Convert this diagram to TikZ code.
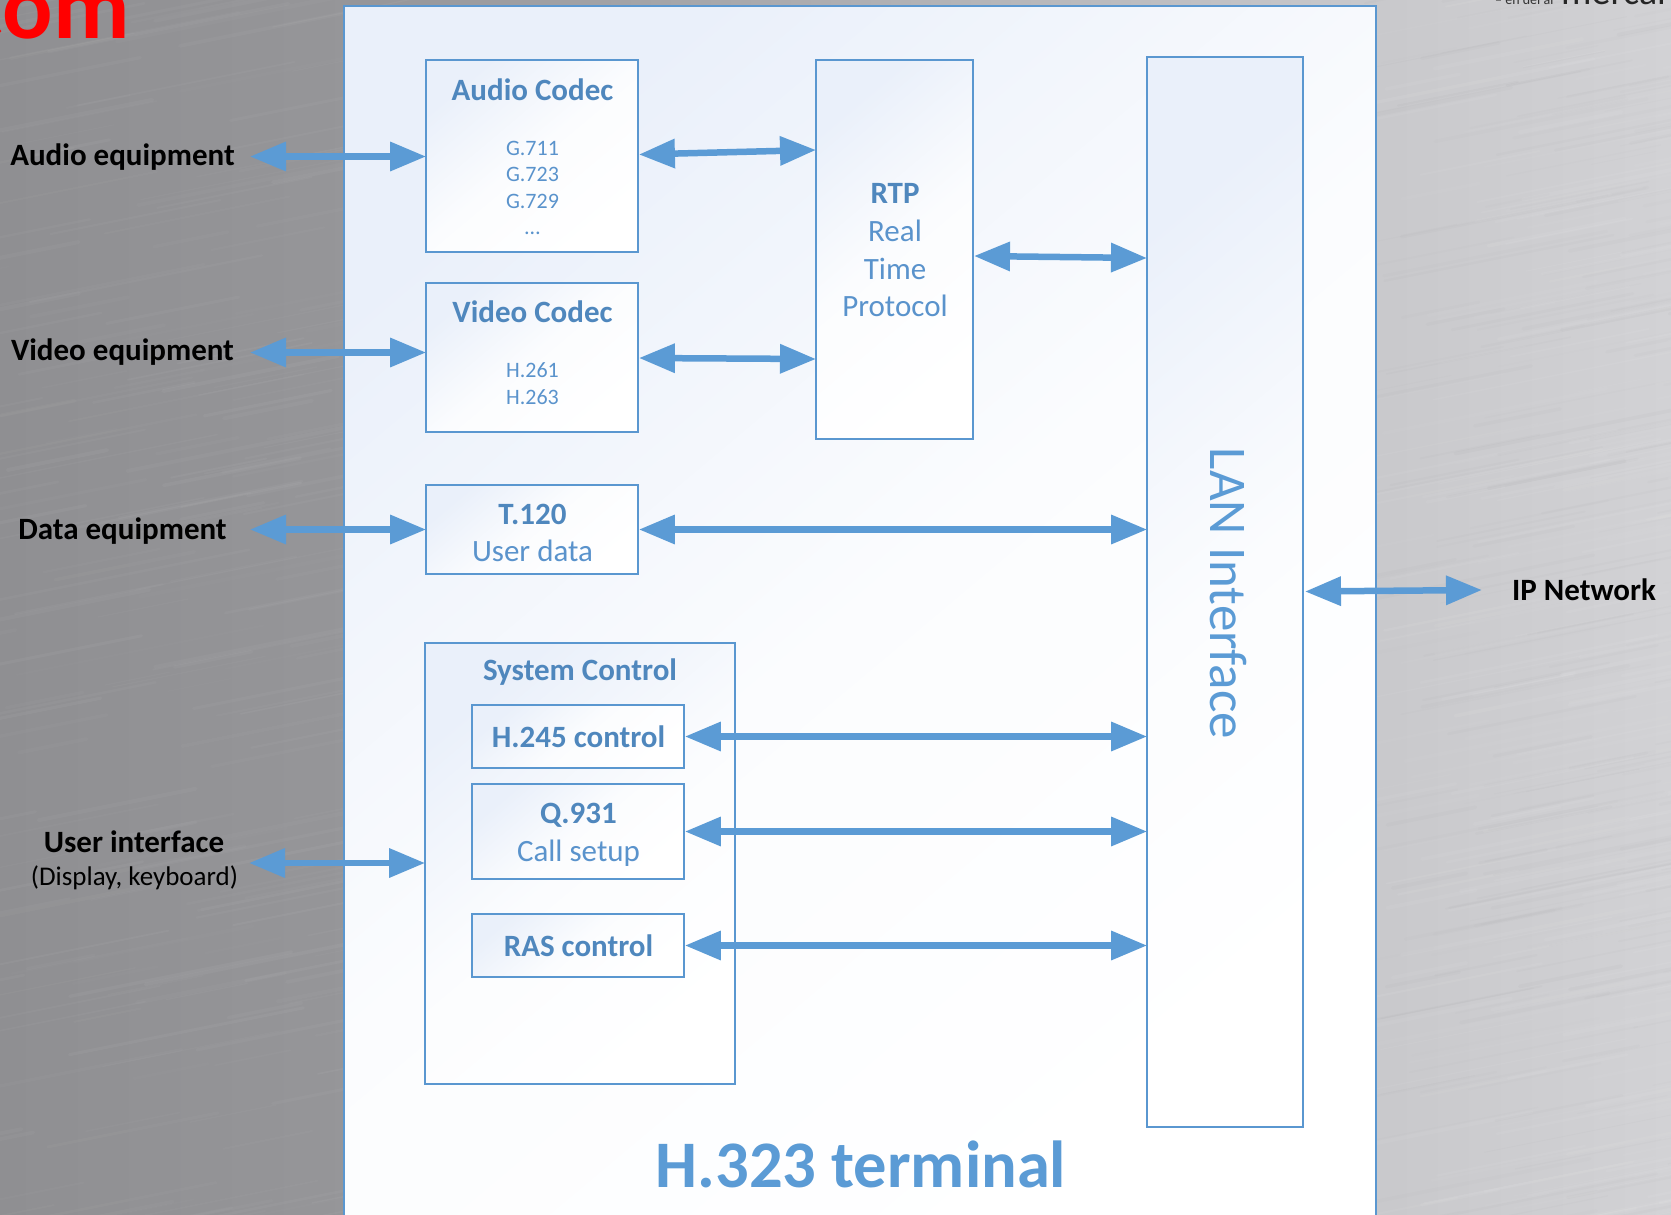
\documentclass[tikz,border=0pt]{standalone}
\usepackage{fontspec}
\setmainfont{Carlito}
\usetikzlibrary{arrows.meta}
\definecolor{bl}{HTML}{5B9BD5}
\definecolor{bd}{HTML}{5A97D0}
\definecolor{tb}{HTML}{4F87BD}
\definecolor{tr}{HTML}{5A93CC}
\definecolor{gr}{HTML}{EAF0FA}
\definecolor{gL}{HTML}{8F8F92}
\definecolor{gM}{HTML}{969699}
\definecolor{gS}{HTML}{C8C8CB}
\definecolor{gR}{HTML}{D2D2D5}
\tikzset{
  boxn/.style={draw=bd,line width=1.8pt,top color=gr,bottom color=white,middle color=white!82!gr,shading angle=40,inner sep=0pt,anchor=center},
  tbold/.style={text=tb,font=\bfseries\fontsize{31}{34}\selectfont,inner sep=0pt},
  treg/.style={text=tr,font=\fontsize{31}{34}\selectfont,inner sep=0pt},
  tsmall/.style={text=tr,font=\fontsize{22}{24}\selectfont,inner sep=0pt},
  lab/.style={text=black,font=\bfseries\fontsize{31}{34}\selectfont,inner sep=0pt},
  dbl/.style={draw=bl,line width=6.5pt,{Triangle[length=36pt,width=28pt,fill=bl]}-{Triangle[length=36pt,width=28pt,fill=bl]},shorten <=0pt,shorten >=-1pt}
}
\begin{document}
\begin{tikzpicture}[x=1pt,y=-1pt]
\useasboundingbox (0,0) rectangle (1671,1215);
\clip (0,0) rectangle (1671,1215);
% background
\shade[left color=gL,right color=gM] (0,0) rectangle (360,1215);
\shade[left color=gM,right color=gS] (360,0) rectangle (1360,1215);
\shade[left color=gS,right color=gR] (1360,0) rectangle (1671,1215);
\pgfmathsetseed{42}
\foreach \i in {1,...,220}{
  \pgfmathsetmacro{\xa}{rnd*420-100}
  \pgfmathsetmacro{\ya}{rnd*1260}
  \pgfmathsetmacro{\ln}{60+rnd*200}
  \pgfmathsetmacro{\wdd}{1+rnd*3}
  \pgfmathsetmacro{\op}{0.015+rnd*0.025}
  \pgfmathsetmacro{\dyy}{\ln*0.2}
  \draw[white,opacity=\op,line width=\wdd pt,line cap=round] (\xa,\ya) -- ++(\ln,-\dyy);
  \pgfmathsetmacro{\xb}{1340+rnd*340}
  \pgfmathsetmacro{\yb}{rnd*1260}
  \draw[black,opacity=\op*0.35,line width=\wdd pt,line cap=round] (\xb,\yb) -- ++(\ln,-\dyy);
  \pgfmathsetmacro{\yc}{rnd*1260}
  \draw[white,opacity=\op*1.5,line width=\wdd pt,line cap=round] (\xb,\yc) -- ++(\ln,-\dyy);
}
% logos cut off by the page edge
\node[anchor=base east,inner sep=0pt,text=red,font=\bfseries\fontsize{94}{94}\selectfont] (logoa) at (130,38.5) {.com};
\node[anchor=base west,inner sep=0pt,text=black!80,font=\fontsize{14}{15}\selectfont] (logob) at (1495,5) {– en del af};
\node[anchor=base west,inner sep=0pt,text=black!85,font=\fontsize{38}{38}\selectfont] (logoc) at (1561,5) {mercal};
% boxes
\node[boxn,minimum width=1032pt,minimum height=1233.5pt] (outer) at (860,623) {};
\node[boxn,minimum width=212pt,minimum height=192pt] (audio) at (532,156) {};
\node[boxn,minimum width=212pt,minimum height=149pt] (video) at (532,357.5) {};
\node[boxn,minimum width=212pt,minimum height=89pt] (t120) at (532,529.5) {};
\node[boxn,minimum width=310pt,minimum height=441pt] (system) at (580,863.5) {};
\node[boxn,minimum width=212pt,minimum height=63pt] (h245) at (578,736.5) {};
\node[boxn,minimum width=212pt,minimum height=95pt] (q931) at (578,831.5) {};
\node[boxn,minimum width=212pt,minimum height=63pt] (ras) at (578,945.5) {};
\node[boxn,minimum width=157pt,minimum height=379pt] (rtp) at (894.5,249.5) {};
\node[boxn,minimum width=156pt,minimum height=1069.5pt] (lan) at (1225,592) {};
% box texts
\node[tbold] (t1) at (532.5,89.5) {Audio Codec};
\node[tsmall] (t2) at (532.5,148) {G.711};
\node[tsmall] (t3) at (532.5,174) {G.723};
\node[tsmall] (t4) at (532.5,201) {G.729};
\node[tsmall] (t5) at (532.5,233) {…};
\node[tbold] (t6) at (532.5,311.5) {Video Codec};
\node[tsmall] (t7) at (532.5,370) {H.261};
\node[tsmall] (t8) at (532.5,397) {H.263};
\node[tbold] (t9) at (895,193.5) {RTP};
\node[treg] (t10) at (895,231) {Real};
\node[treg] (t11) at (895,268.5) {Time};
\node[treg] (t12) at (895,306) {Protocol};
\node[tbold] (t13) at (532.5,514) {T.120};
\node[treg] (t14) at (532.5,551) {User data};
\node[tbold] (t15) at (580,672) {System Control};
\node[tbold] (t16) at (578.5,737) {H.245 control};
\node[tbold] (t17) at (578.5,815) {Q.931};
\node[treg] (t18) at (578.5,853.5) {Call setup};
\node[tbold] (t19) at (578.5,946) {RAS control};
\node[text=bl,font=\fontsize{53}{55}\selectfont,inner sep=0pt,rotate=-90] (t20) at (1228,593.5) {LAN Interface};
\node[text=bl,font=\bfseries\fontsize{66.5}{68}\selectfont,inner sep=0pt] (t21) at (861,1164) {H.323 terminal};
% outside labels
\node[lab] (l1) at (122.5,157) {Audio equipment};
\node[lab] (l2) at (122.5,352.5) {Video equipment};
\node[lab] (l3) at (122.5,531) {Data equipment};
\node[lab] (l4) at (134,842) {User interface};
\node[inner sep=0pt,text=black,font=\fontsize{27}{29}\selectfont] (l5) at (134.5,878) {(Display, keyboard)};
\node[lab] (l6) at (1584,589.5) {IP Network};
% free ends
\coordinate (ea) at (250,156.5);
\coordinate (ev) at (250,352.5);
\coordinate (ed) at (250,529.5);
\coordinate (eu) at (249,863);
\coordinate (ei) at (1481,590);
\coordinate (ra) at (815,150);
\coordinate (rv) at (815,359);
\coordinate (la) at (1146,258);
\coordinate (rl) at (974,256);
\coordinate (ll) at (1305,591.5);
% connectors
\draw[dbl] (ea) -- (audio.west |- ea);
\draw[dbl] (ev) -- (video.west |- ev);
\draw[dbl] (ed) -- (t120.west);
\draw[dbl] (eu) -- (system.west |- eu);
\draw[dbl] (audio.east) ++(0,-1.5) -- (ra);
\draw[dbl] (video.east) ++(0,0.5) -- (rv);
\draw[dbl] (rl) -- (la);
\draw[dbl] (t120.east) -- (lan.west |- t120.east);
\draw[dbl] (h245.east) -- (lan.west |- h245.east);
\draw[dbl] (q931.east) -- (lan.west |- q931.east);
\draw[dbl] (ras.east) -- (lan.west |- ras.east);
\draw[dbl] (ll) -- (ei);
\end{tikzpicture}
\end{document}
